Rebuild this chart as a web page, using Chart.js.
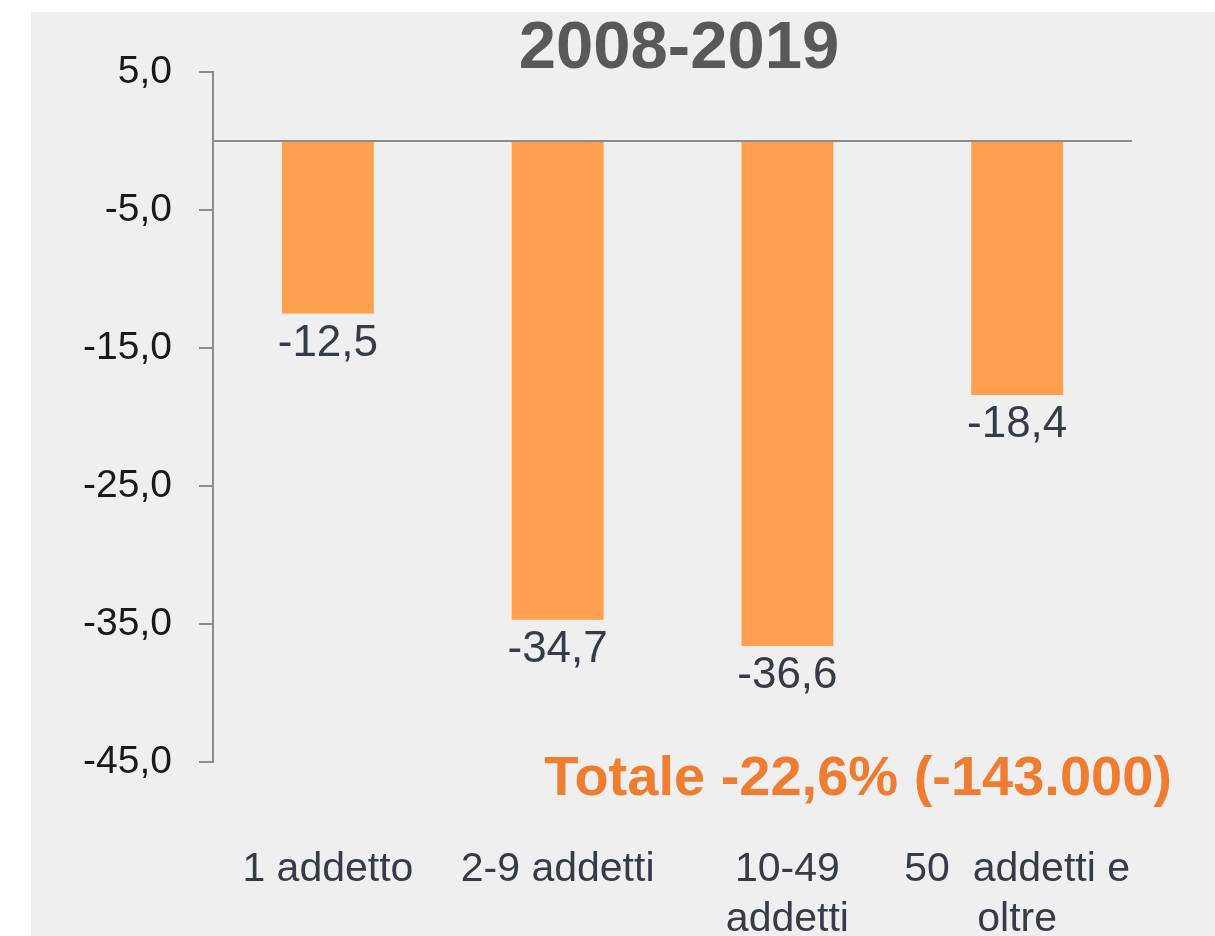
<!DOCTYPE html>
<html>
<head>
<meta charset="utf-8">
<script src="https://cdn.jsdelivr.net/npm/chart.js@4.4.0/dist/chart.umd.min.js"></script>
<style>
  body { margin: 0; background: #ffffff; }
  #box { position: absolute; left: 31px; top: 12px; width: 1184px; height: 924px; background: #efefef; }
</style>
</head>
<body>
<div id="box"><canvas id="chart" width="1184" height="924"></canvas></div>
<script>
// data
const categories = ['1 addetto', '2-9 addetti', ['10-49', 'addetti'], ['50  addetti e', 'oltre']];
const values = [-12.5, -34.7, -36.6, -18.4];
const yTicks = [5, -5, -15, -25, -35, -45];
const titleText = '2008-2019';
const totalText = 'Totale -22,6% (-143.000)';

const fmt = (v) => v.toFixed(1).replace('.', ',');

// zero line, value labels, title and total note
const extras = {
  id: 'extras',
  afterDatasetsDraw(chart) {
    const ctx = chart.ctx;
    const area = chart.chartArea;
    const y0 = chart.scales.y.getPixelForValue(0);
    ctx.save();
    ctx.strokeStyle = '#8c8c8c';
    ctx.lineWidth = 2;
    ctx.beginPath();
    ctx.moveTo(area.left, y0);
    ctx.lineTo(area.right, y0);
    ctx.stroke();

    // value labels below each bar
    ctx.fillStyle = '#353c48';
    ctx.font = '44px "Liberation Sans", Arial, sans-serif';
    ctx.textAlign = 'center';
    ctx.textBaseline = 'alphabetic';
    chart.getDatasetMeta(0).data.forEach((bar, i) => {
      ctx.fillText(fmt(values[i]), bar.x, bar.y + 42);
    });

    // title
    ctx.fillStyle = '#595959';
    ctx.font = 'bold 67px "Liberation Sans", Arial, sans-serif';
    ctx.fillText(titleText, 648, 56);

    // total note
    ctx.fillStyle = '#ef7d31';
    ctx.font = 'bold 56px "Liberation Sans", Arial, sans-serif';
    ctx.textAlign = 'right';
    ctx.fillText(totalText, 1141, 783);
    ctx.restore();
  }
};

const ctx = document.getElementById('chart').getContext('2d');
new Chart(ctx, {
  type: 'bar',
  data: {
    labels: categories,
    datasets: [{
      data: values,
      backgroundColor: '#ffa04e',
      barPercentage: 0.4,
      categoryPercentage: 1,
    }],
  },
  options: {
    responsive: false,
    animation: false,
    layout: { padding: { top: 60, right: 80, bottom: 0, left: 0 } },
    plugins: {
      legend: { display: false },
      tooltip: { enabled: false },
      title: { display: false },
    },
    scales: {
      x: {
        grid: { display: false },
        border: { display: false },
        ticks: {
          color: '#353c48',
          font: { family: '"Liberation Sans", Arial, sans-serif', size: 41, lineHeight: 1.22 },
          padding: 75,
          maxRotation: 0,
          autoSkip: false,
        },
        afterFit(scale) { scale.height = 174; },
      },
      y: {
        min: -45,
        max: 5,
        afterBuildTicks(scale) { scale.ticks = yTicks.map((v) => ({ value: v })); },
        afterFit(scale) { scale.width = 182; },
        grid: { drawOnChartArea: false, drawTicks: true, tickLength: 14, color: '#8c8c8c', lineWidth: 2 },
        border: { display: true, color: '#8c8c8c', width: 2 },
        ticks: {
          color: '#1a1a1a',
          font: { family: '"Liberation Sans", Arial, sans-serif', size: 39 },
          padding: 27,
          callback: (v) => fmt(v),
        },
      },
    },
  },
  plugins: [extras],
});
</script>
</body>
</html>
